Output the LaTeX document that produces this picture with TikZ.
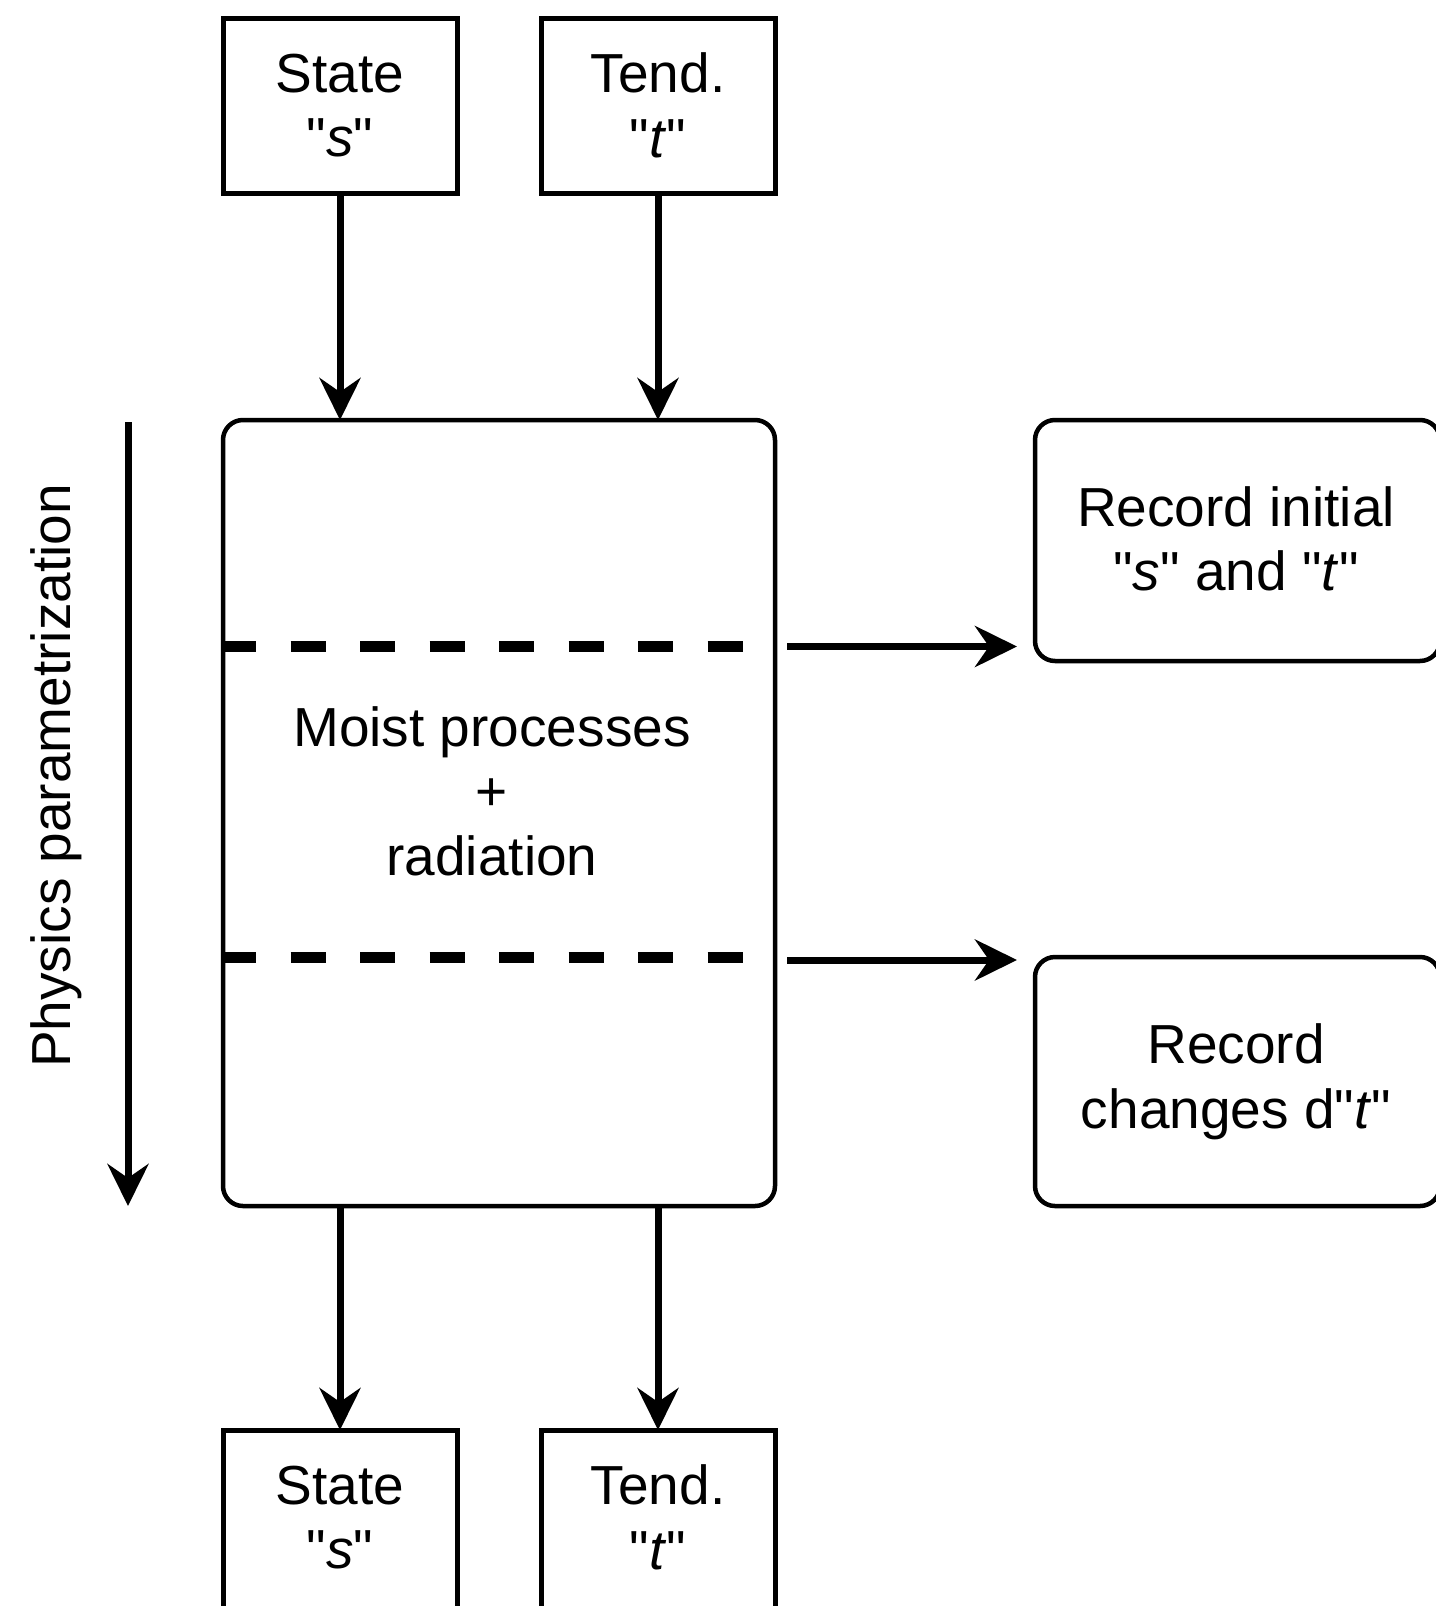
\documentclass[tikz,border=0pt]{standalone}
\usepackage{fontspec}
\setmainfont{Liberation Sans}[Ligatures=TeXOff]
\usetikzlibrary{arrows.meta}
\begin{document}
\begin{tikzpicture}[x=1pt,y=-1pt,
  every node/.style={inner sep=0pt,outer sep=0pt,align=center,font=\fontsize{55}{64.5}\selectfont},
  sqbox/.style={draw,line width=5pt,minimum width=234pt,minimum height=175pt},
  rbox/.style={draw,line width=4.5pt,rounded corners=20pt},
  conn/.style={line width=7pt,-{Stealth[length=42pt,width=41pt,inset=14pt]}},
  sep/.style={line width=11pt,dash pattern=on 35pt off 34.5pt}
]
\useasboundingbox (0,0) rectangle (1435,1606);
% top boxes
\node[sqbox] (s1) at (340,105.5) {State\\"\textit{s}"};
\node[sqbox] (t1) at (658,105.5) {Tend.\\"\textit{t}"};
% main box
\node[rbox,minimum width=552pt,minimum height=786pt] (main) at (499,813) {};
\node (mtext) at (492,791) {Moist processes\\+\\radiation};
% record boxes
\node[rbox,minimum width=405pt,minimum height=241pt] (rec1) at (1237.5,540.5) {};
\node (rec1t) at (1236,539) {Record initial\\"\textit{s}" and "\textit{t}"};
\node[rbox,minimum width=405pt,minimum height=249pt] (rec2) at (1237.5,1081.5) {};
\node (rec2t) at (1236,1082) {Record\\changes d"\textit{t}"};
% bottom boxes
\node[sqbox,minimum height=178pt] (s2) at (340,1519) {};
\node (s2t) at (340,1517.5) {State\\"\textit{s}"};
\node[sqbox,minimum height=178pt] (t2) at (658,1519) {};
\node (t2t) at (658,1517.5) {Tend.\\"\textit{t}"};
% connectors top
\draw[conn] (s1.south) -- (s1.south |- main.north);
\draw[conn] (t1.south) -- (t1.south |- main.north);
% connectors bottom
\draw[conn] (s2.north |- main.south) -- (s2.north);
\draw[conn] (t2.north |- main.south) -- (t2.north);
% dashed separators
\coordinate (d1a) at (221,646.5);
\coordinate (d1b) at (746,646.5);
\coordinate (d2a) at (221,957.5);
\coordinate (d2b) at (746,957.5);
\draw[sep] (d1a) -- (d1b);
\draw[sep] (d2a) -- (d2b);
% right arrows
\coordinate (r1a) at (787,646.5);
\coordinate (r1b) at (1017,646.5);
\coordinate (r2a) at (787,960);
\coordinate (r2b) at (1017,960);
\draw[conn] (r1a) -- (r1b);
\draw[conn] (r2a) -- (r2b);
% physics parametrization arrow
\coordinate (pa) at (128,422);
\coordinate (pb) at (128,1206);
\draw[conn] (pa) -- (pb);
\node[rotate=90] (phys) at (56,776) {Physics parametrization};
\end{tikzpicture}
\end{document}
